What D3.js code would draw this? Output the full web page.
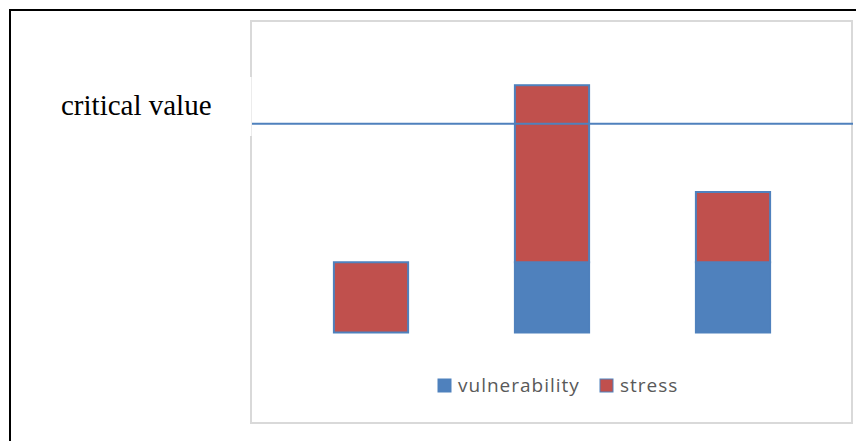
<!DOCTYPE html>
<html>
<head>
<meta charset="utf-8">
<script src="https://cdn.jsdelivr.net/npm/d3@7"></script>
<style>
  html, body { margin: 0; padding: 0; background: #fff; }
  svg { display: block; }
</style>
</head>
<body>
<svg id="chart" width="856" height="441"></svg>
<script>
// Stacked columns: vulnerability at the base, stress on top
const categories = ["A", "B", "C"];
const vulnerability = [0, 1, 1];
const stress = [1, 2.52, 1];
const criticalValue = 2.97;
const seriesNames = ["vulnerability", "stress"];
const seriesColors = ["#4F81BD", "#C0504D"];

const svg = d3.select("#chart");

// Outer frame of the figure
svg.append("rect")
  .attr("x", 10).attr("y", 10)
  .attr("width", 900).attr("height", 500)
  .attr("fill", "none").attr("stroke", "#000").attr("stroke-width", 2);

// Chart area border
svg.append("rect")
  .attr("x", 251).attr("y", 21)
  .attr("width", 601).attr("height", 402)
  .attr("fill", "#fff").attr("stroke", "#d9d9d9").attr("stroke-width", 2);

// Label box covering the left edge of the chart frame
svg.append("rect")
  .attr("x", 20).attr("y", 77)
  .attr("width", 231.5).attr("height", 59)
  .attr("fill", "#fff");

svg.append("text")
  .attr("x", 61).attr("y", 115)
  .attr("font-family", "'Liberation Serif', 'Times New Roman', serif")
  .attr("font-size", 29)
  .attr("fill", "#000")
  .text("critical value");

const x = d3.scaleBand()
  .domain(categories)
  .range([280.5, 823.5])
  .paddingInner(0.59)
  .paddingOuter(0.295);

const y = d3.scaleLinear()
  .domain([0, 4])
  .range([332.5, 51.5]);

const rows = categories.map((c, i) => ({ cat: c, vulnerability: vulnerability[i], stress: stress[i] }));
const stacked = d3.stack().keys(seriesNames)(rows);

const g = svg.append("g");
stacked.forEach((layer, li) => {
  g.selectAll(null)
    .data(layer.filter(d => d[1] - d[0] > 0))
    .join("rect")
    .attr("x", d => x(d.data.cat))
    .attr("y", d => y(d[1]))
    .attr("width", x.bandwidth())
    .attr("height", d => y(d[0]) - y(d[1]))
    .attr("fill", seriesColors[li])
    .attr("stroke", "#4F81BD")
    .attr("stroke-width", 2);
});

// Critical value line
svg.append("line")
  .attr("x1", 252).attr("x2", 853)
  .attr("y1", y(criticalValue)).attr("y2", y(criticalValue))
  .attr("stroke", "#4F81BD").attr("stroke-width", 2);

// Legend
const legendItems = [
  { name: "vulnerability", color: seriesColors[0], x: 438 },
  { name: "stress", color: seriesColors[1], x: 600 }
];
const lg = svg.append("g");
legendItems.forEach(it => {
  lg.append("rect")
    .attr("x", it.x).attr("y", 379)
    .attr("width", 13).attr("height", 13)
    .attr("fill", it.color)
    .attr("stroke", "#4F81BD").attr("stroke-width", 1);
  lg.append("text")
    .attr("x", it.x + 20).attr("y", 392)
    .attr("font-family", "'Open Sans', sans-serif")
    .attr("font-size", 19)
    .attr("letter-spacing", 1)
    .attr("fill", "#595959")
    .text(it.name);
});
</script>
</body>
</html>
